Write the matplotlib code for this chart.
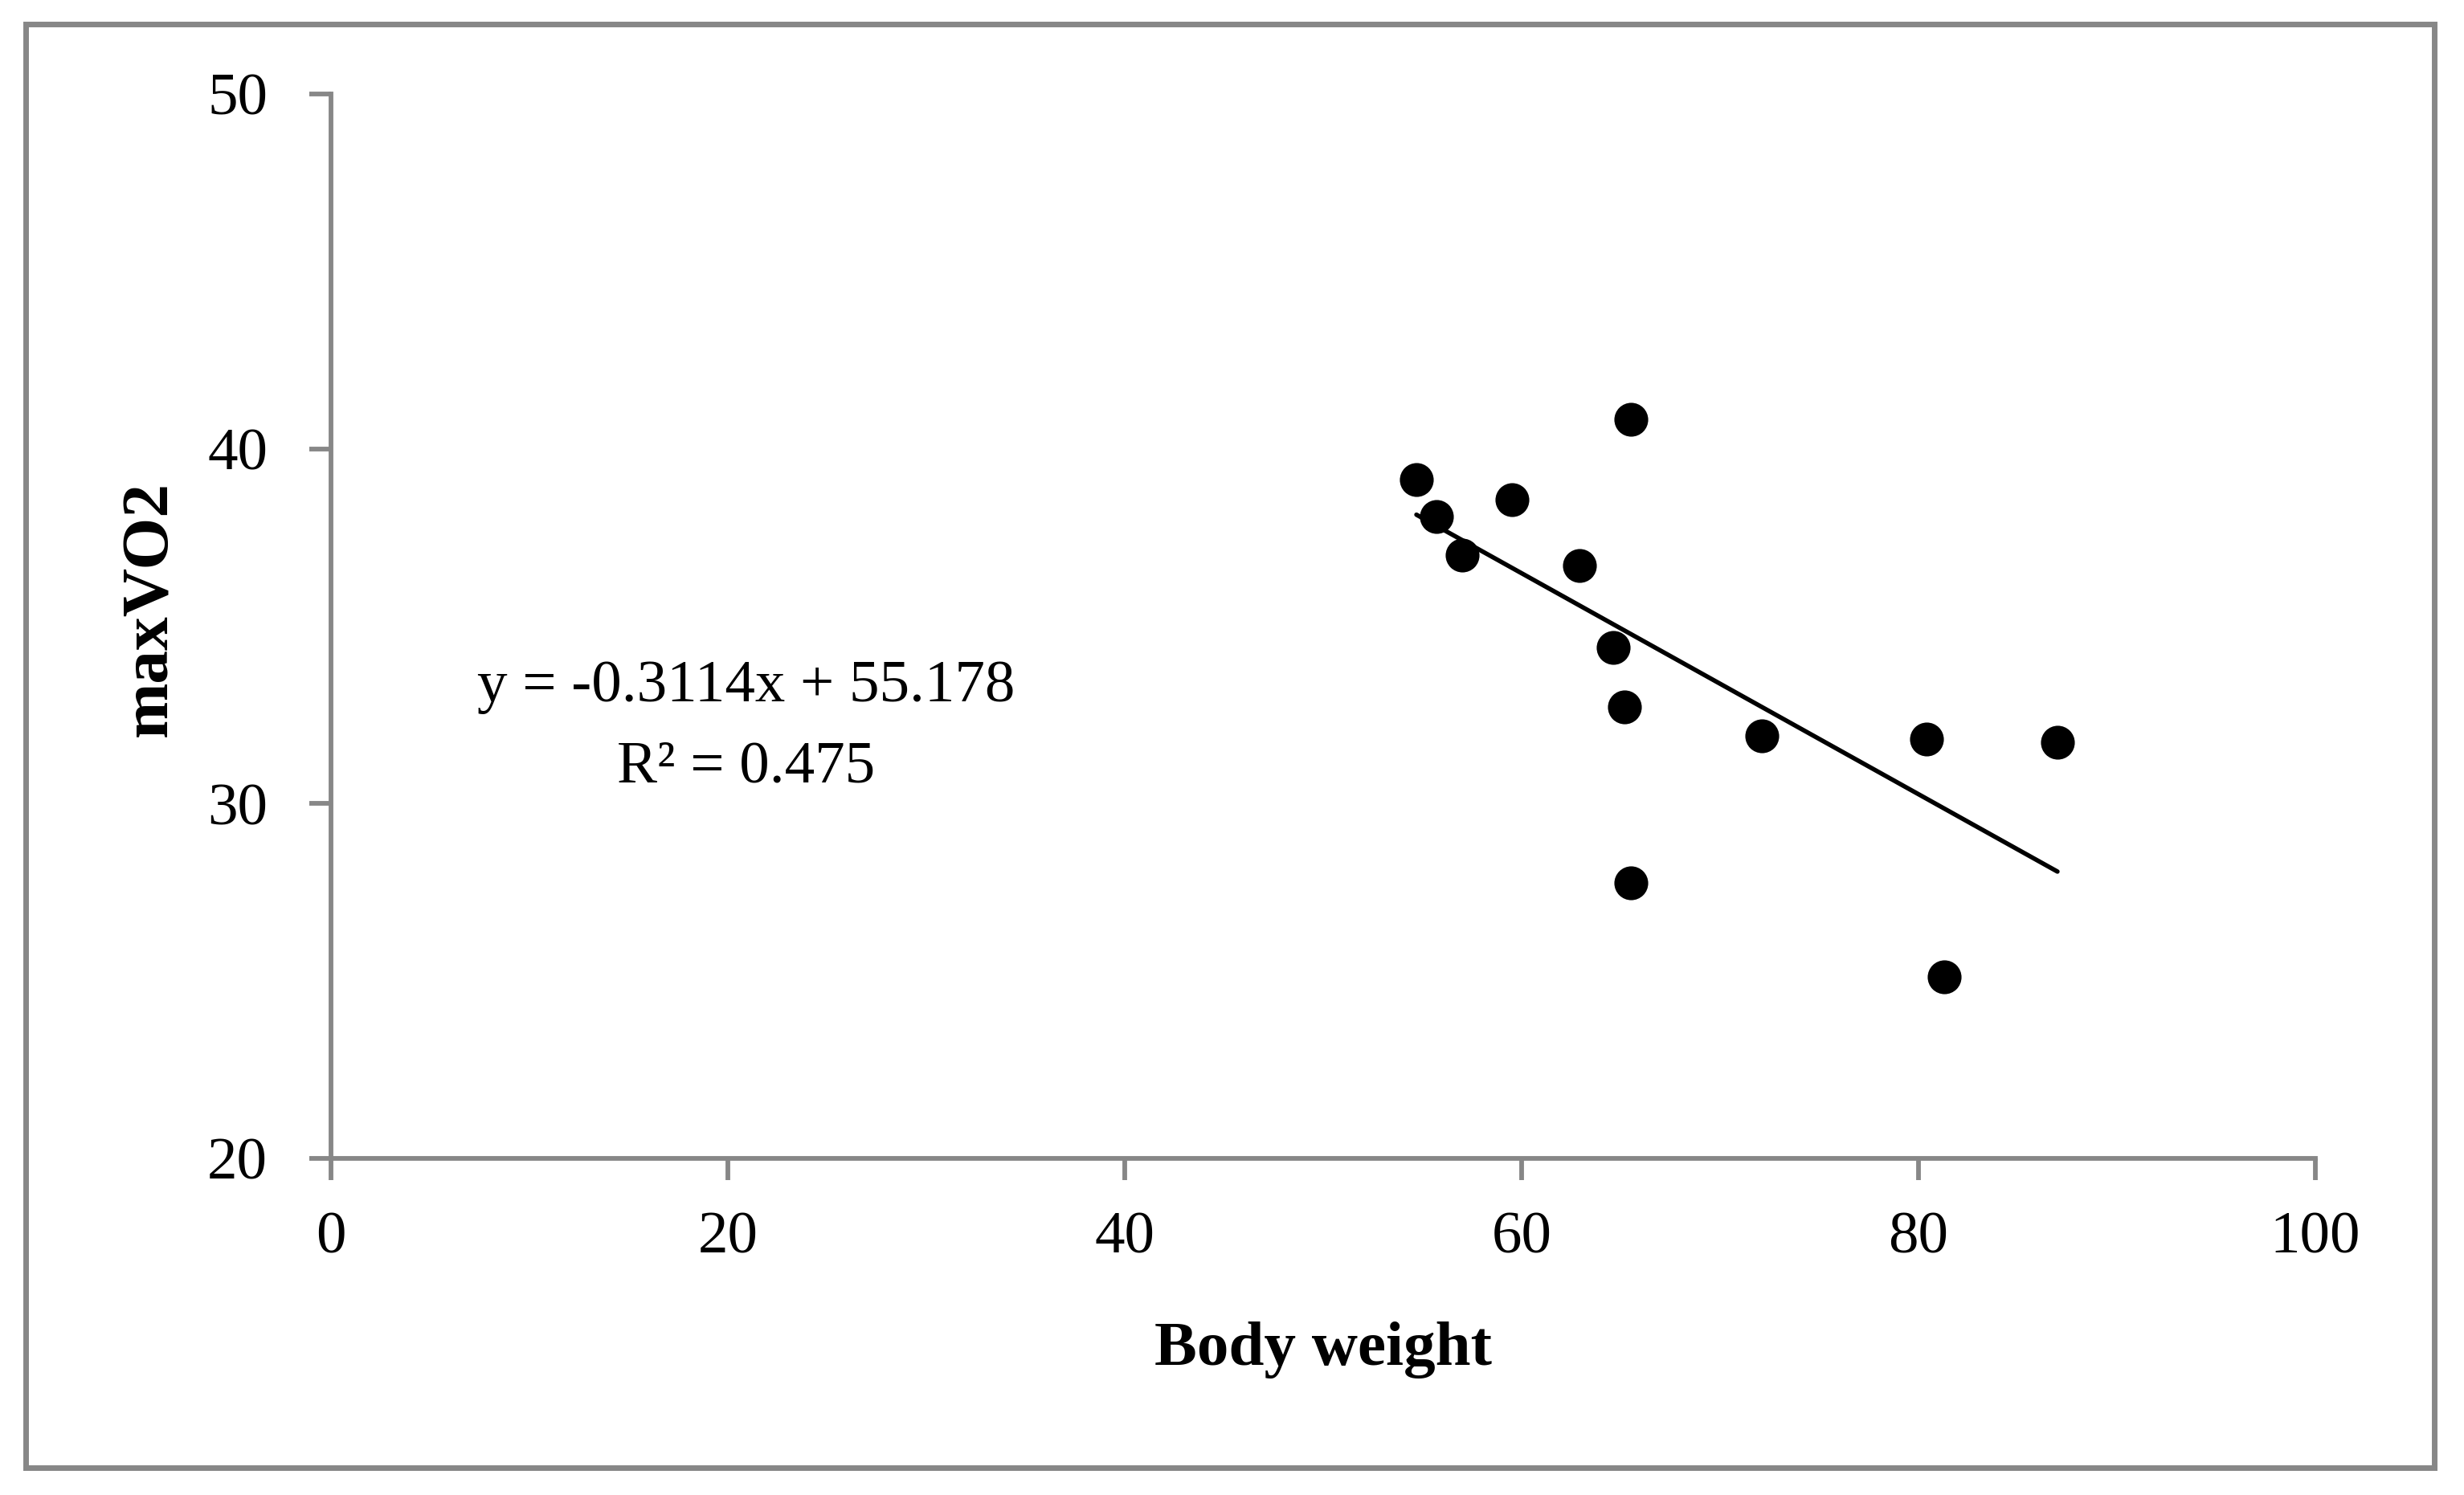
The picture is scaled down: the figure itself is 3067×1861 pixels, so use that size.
import matplotlib
matplotlib.use("Agg")
import matplotlib.pyplot as plt
from matplotlib.patches import Rectangle
import numpy as np

# body weight (kg) vs maxVO2
body_weight = [54.7, 55.7, 57.0, 59.5, 62.9, 64.6, 65.2, 65.5, 65.5, 72.1, 80.4, 81.3, 87.0]
max_vo2 = [39.14, 38.10, 37.00, 38.57, 36.71, 34.40, 32.72, 40.84, 27.77, 31.91, 31.83, 25.11, 31.72]

slope, intercept, r2 = -0.3114, 55.178, 0.475
x_ticks = [0, 20, 40, 60, 80, 100]
y_ticks = [20, 30, 40, 50]

GREY = "#878787"
plt.rcParams["font.family"] = ["Liberation Serif", "DejaVu Serif"]

fig = plt.figure(figsize=(15.335, 9.305), dpi=200)
ax = fig.add_axes([0.1343, 0.2251, 0.8054, 0.712])

ax.scatter(body_weight, max_vo2, s=230, color="black", zorder=3, linewidths=0)
xs = np.array([min(body_weight), max(body_weight)])
ax.plot(xs, slope * xs + intercept, color="black", lw=2.0, zorder=2,
        solid_capstyle="round")

ax.set_xlim(0, 100)
ax.set_ylim(20, 50)
ax.set_xticks(x_ticks)
ax.set_yticks(y_ticks)
for side in ("top", "right"):
    ax.spines[side].set_visible(False)
for side in ("left", "bottom"):
    ax.spines[side].set_color(GREY)
    ax.spines[side].set_linewidth(2.1)
ax.tick_params(axis="both", direction="out", length=9.7, width=2.1, color=GREY,
               labelsize=27, labelcolor="black")
ax.tick_params(axis="y", pad=18.7)
ax.tick_params(axis="x", pad=14)

# the original labels use a wider bold face, so go a touch larger
ax.set_xlabel("Body weight", fontsize=28.5, weight="bold")
ax.xaxis.label.set_va("baseline")
ax.xaxis.set_label_coords(0.5, -0.194)
ax.set_ylabel("maxVO2", fontsize=30, weight="bold", va="center", ha="center")
ax.yaxis.set_label_coords(-0.0907, 0.516)

ax.text(0.2093, 0.4294, f"y = {slope:.4f}x + {intercept:.3f}", transform=ax.transAxes,
        fontsize=27, ha="center", va="baseline")
ax.text(0.2093, 0.354, f"R² = {r2:.3f}", transform=ax.transAxes,
        fontsize=27, ha="center", va="baseline")

# grey frame round the whole chart
fig.patches.append(Rectangle((0.0104, 0.0183), 0.9776, 0.9657, transform=fig.transFigure,
                             fill=False, edgecolor=GREY, lw=2.5))

fig.savefig("out.png", dpi=200, facecolor="white")
